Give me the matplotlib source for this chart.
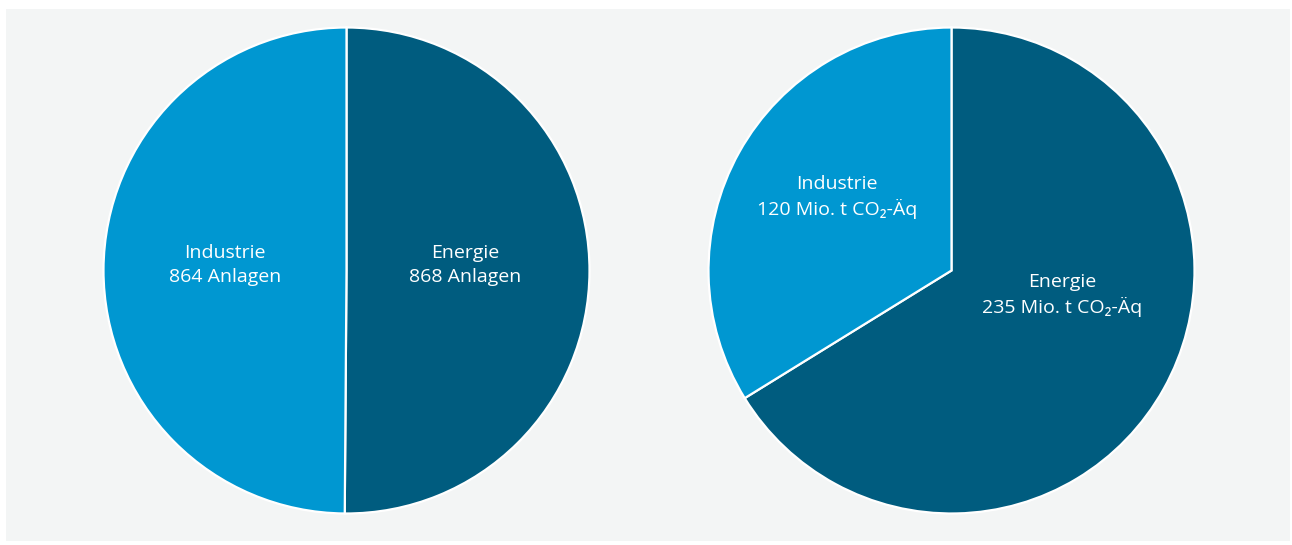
import matplotlib
matplotlib.use("Agg")
import matplotlib.pyplot as plt
from matplotlib.patches import Rectangle

plt.rcParams['font.family'] = ['Open Sans', 'Noto Sans', 'DejaVu Sans']

# Data
left_categories = ["Energie", "Industrie"]
left_values = [868, 864]
left_labels = ["Energie\n868 Anlagen", "Industrie\n864 Anlagen"]

right_categories = ["Energie", "Industrie"]
right_values = [235, 120]
right_labels = ["Energie\n235 Mio. t CO\u2082-Äq", "Industrie\n120 Mio. t CO\u2082-Äq"]

colors = ["#005c7f", "#0097d1"]

W, H = 1292, 545
fig = plt.figure(figsize=(W / 100, H / 100), dpi=100)
fig.patch.set_facecolor("white")
bg = Rectangle((6 / W, 1 - 541 / H), (1290 - 6) / W, (541 - 9) / H,
               transform=fig.transFigure, facecolor="#f3f5f5",
               edgecolor="none", zorder=-10)
fig.add_artist(bg)


def draw(ax, values, labels, label_pos):
    ax.set_zorder(1)
    ax.patch.set_visible(False)
    wedges, _ = ax.pie(values, colors=colors, startangle=90, counterclock=False,
                       radius=1, wedgeprops=dict(edgecolor="white", linewidth=1.6))
    for (x, y), lab in zip(label_pos, labels):
        ax.text(x, y, lab, ha="center", va="center", color="white",
                fontsize=14, linespacing=1.4)
    ax.set_xlim(-1.0, 1.0)
    ax.set_ylim(-1.0, 1.0)
    ax.set_aspect("equal")
    ax.axis("off")


r = 243
ax1 = fig.add_axes([(346.5 - r) / W, (H - 270.5 - r) / H, 2 * r / W, 2 * r / H])
draw(ax1, left_values, left_labels, [(0.489, 0.023), (-0.501, 0.023)])

ax2 = fig.add_axes([(951.5 - r) / W, (H - 270.5 - r) / H, 2 * r / W, 2 * r / H])
draw(ax2, right_values, right_labels, [(0.456, -0.101), (-0.472, 0.303)])

fig.savefig("out.png", dpi=100, facecolor="white")
